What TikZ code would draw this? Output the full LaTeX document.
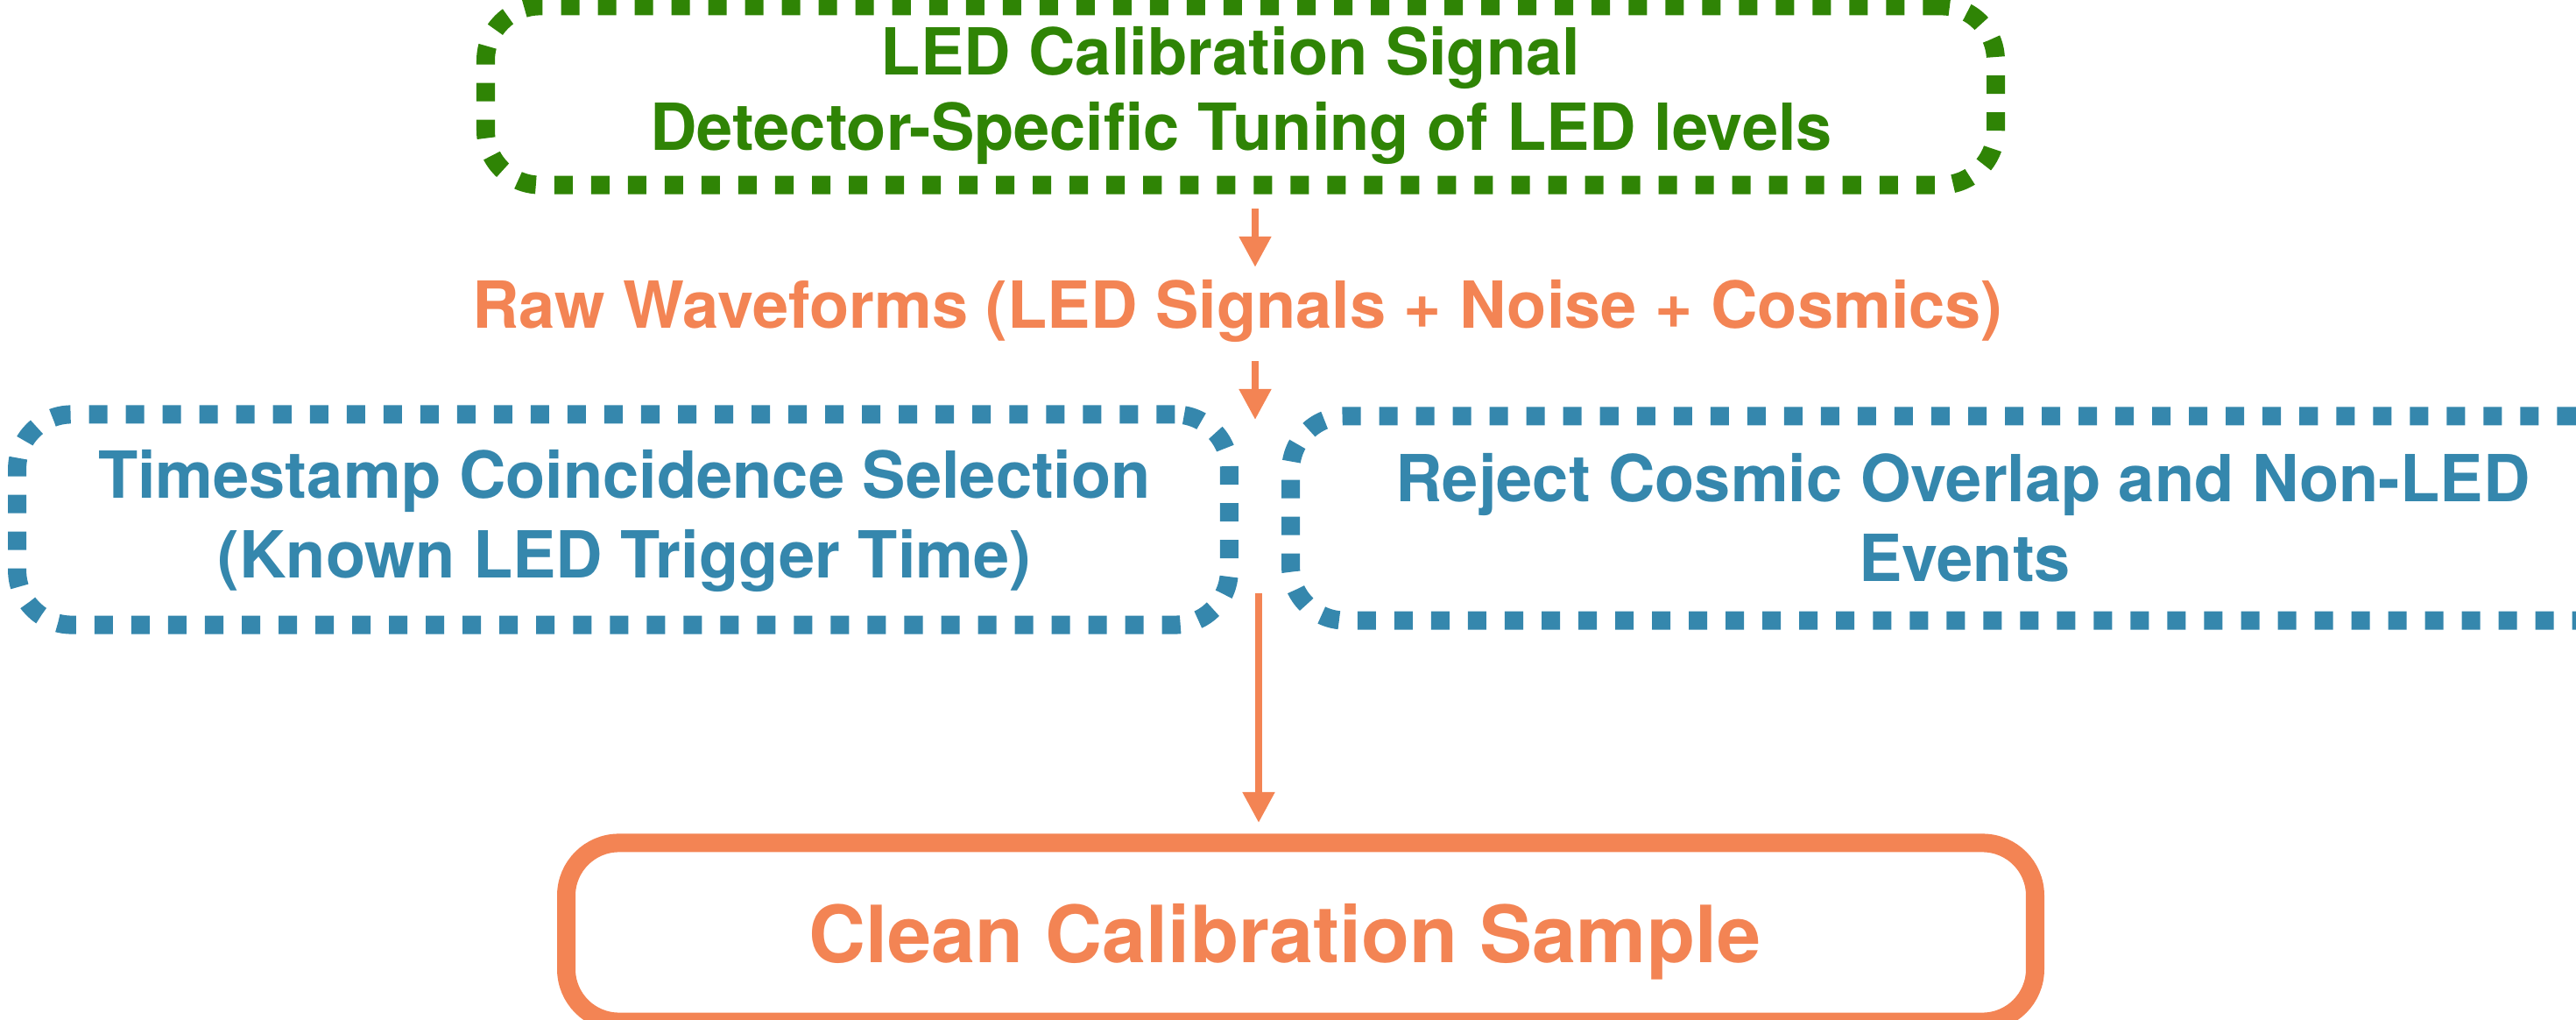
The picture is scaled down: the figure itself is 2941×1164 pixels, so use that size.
\documentclass[tikz,border=0pt]{standalone}
\usepackage{fontspec}
\setmainfont{TeX Gyre Heros}
\usetikzlibrary{arrows.meta,calc}
\definecolor{cgreen}{RGB}{47,132,5}
\definecolor{corange}{RGB}{243,132,84}
\definecolor{cblue}{RGB}{53,135,173}
\begin{document}
\begin{tikzpicture}[x=0.01cm,y=-0.01cm,
  boxdot/.style={draw, rectangle, line width=0.21cm, dash pattern=on 0.21cm off 0.21cm,
    rounded corners=0.62cm, inner sep=0pt, outer sep=0pt},
  boxsolid/.style={draw, rectangle, line width=0.21cm, rounded corners=0.6cm,
    inner sep=0pt, outer sep=0pt},
  lbl/.style={font=\fontsize{21.05pt}{25pt}\selectfont\bfseries, inner sep=0pt, outer sep=0pt, anchor=base},
  biglbl/.style={font=\fontsize{25.6pt}{30pt}\selectfont\bfseries, inner sep=0pt, outer sep=0pt, anchor=base},
  arr/.style={corange, line width=0.08cm, -{Triangle[length=0.35cm,width=0.35cm]}}]
\useasboundingbox (0,0) rectangle (2941,1164);

% boxes
\node[boxdot, cgreen, minimum width=17.23cm, minimum height=2.04cm] (top) at (1416.5,109) {};
\node[boxdot, cblue, minimum width=13.83cm, minimum height=2.40cm] (left) at (711.5,593) {};
\node[boxdot, cblue, minimum width=15.28cm, minimum height=2.33cm] (right) at (2238,591.5) {};
\node[boxsolid, corange, minimum width=16.76cm, minimum height=2.04cm] (bottom) at (1485,1064) {};

% texts
\node[lbl, cgreen] (g1) at (1405,86) {LED Calibration Signal};
\node[lbl, cgreen] (g2) at (1417,172) {Detector-Specific Tuning of LED levels};
\node[lbl, corange] (raw) at (1413,375) {Raw Waveforms (LED Signals + Noise + Cosmics)};
\node[lbl, cblue] (l1) at (713,569) {Timestamp Coincidence Selection};
\node[lbl, cblue] (l2) at (713,660) {(Known LED Trigger Time)};
\node[lbl, cblue] (r1) at (2241,573) {Reject Cosmic Overlap and Non-LED};
\node[lbl, cblue] (r2) at (2243,664) {Events};
\node[biglbl, corange] (clean) at (1467,1098) {Clean Calibration Sample};

% connectors
\coordinate (ax) at (1433,0);
\coordinate (gapN) at (1433,479);
\coordinate (gapS) at (1437,677);
\draw[arr] ($(top.south -| ax)+(0,27)$) -- ($(raw.north -| ax)+(0,-15)$);
\draw[arr] ($(raw.south -| ax)+(0,21)$) -- (gapN);
\draw[arr] (gapS) -- ($(bottom.north -| gapS)+(0,-23)$);
\end{tikzpicture}
\end{document}
